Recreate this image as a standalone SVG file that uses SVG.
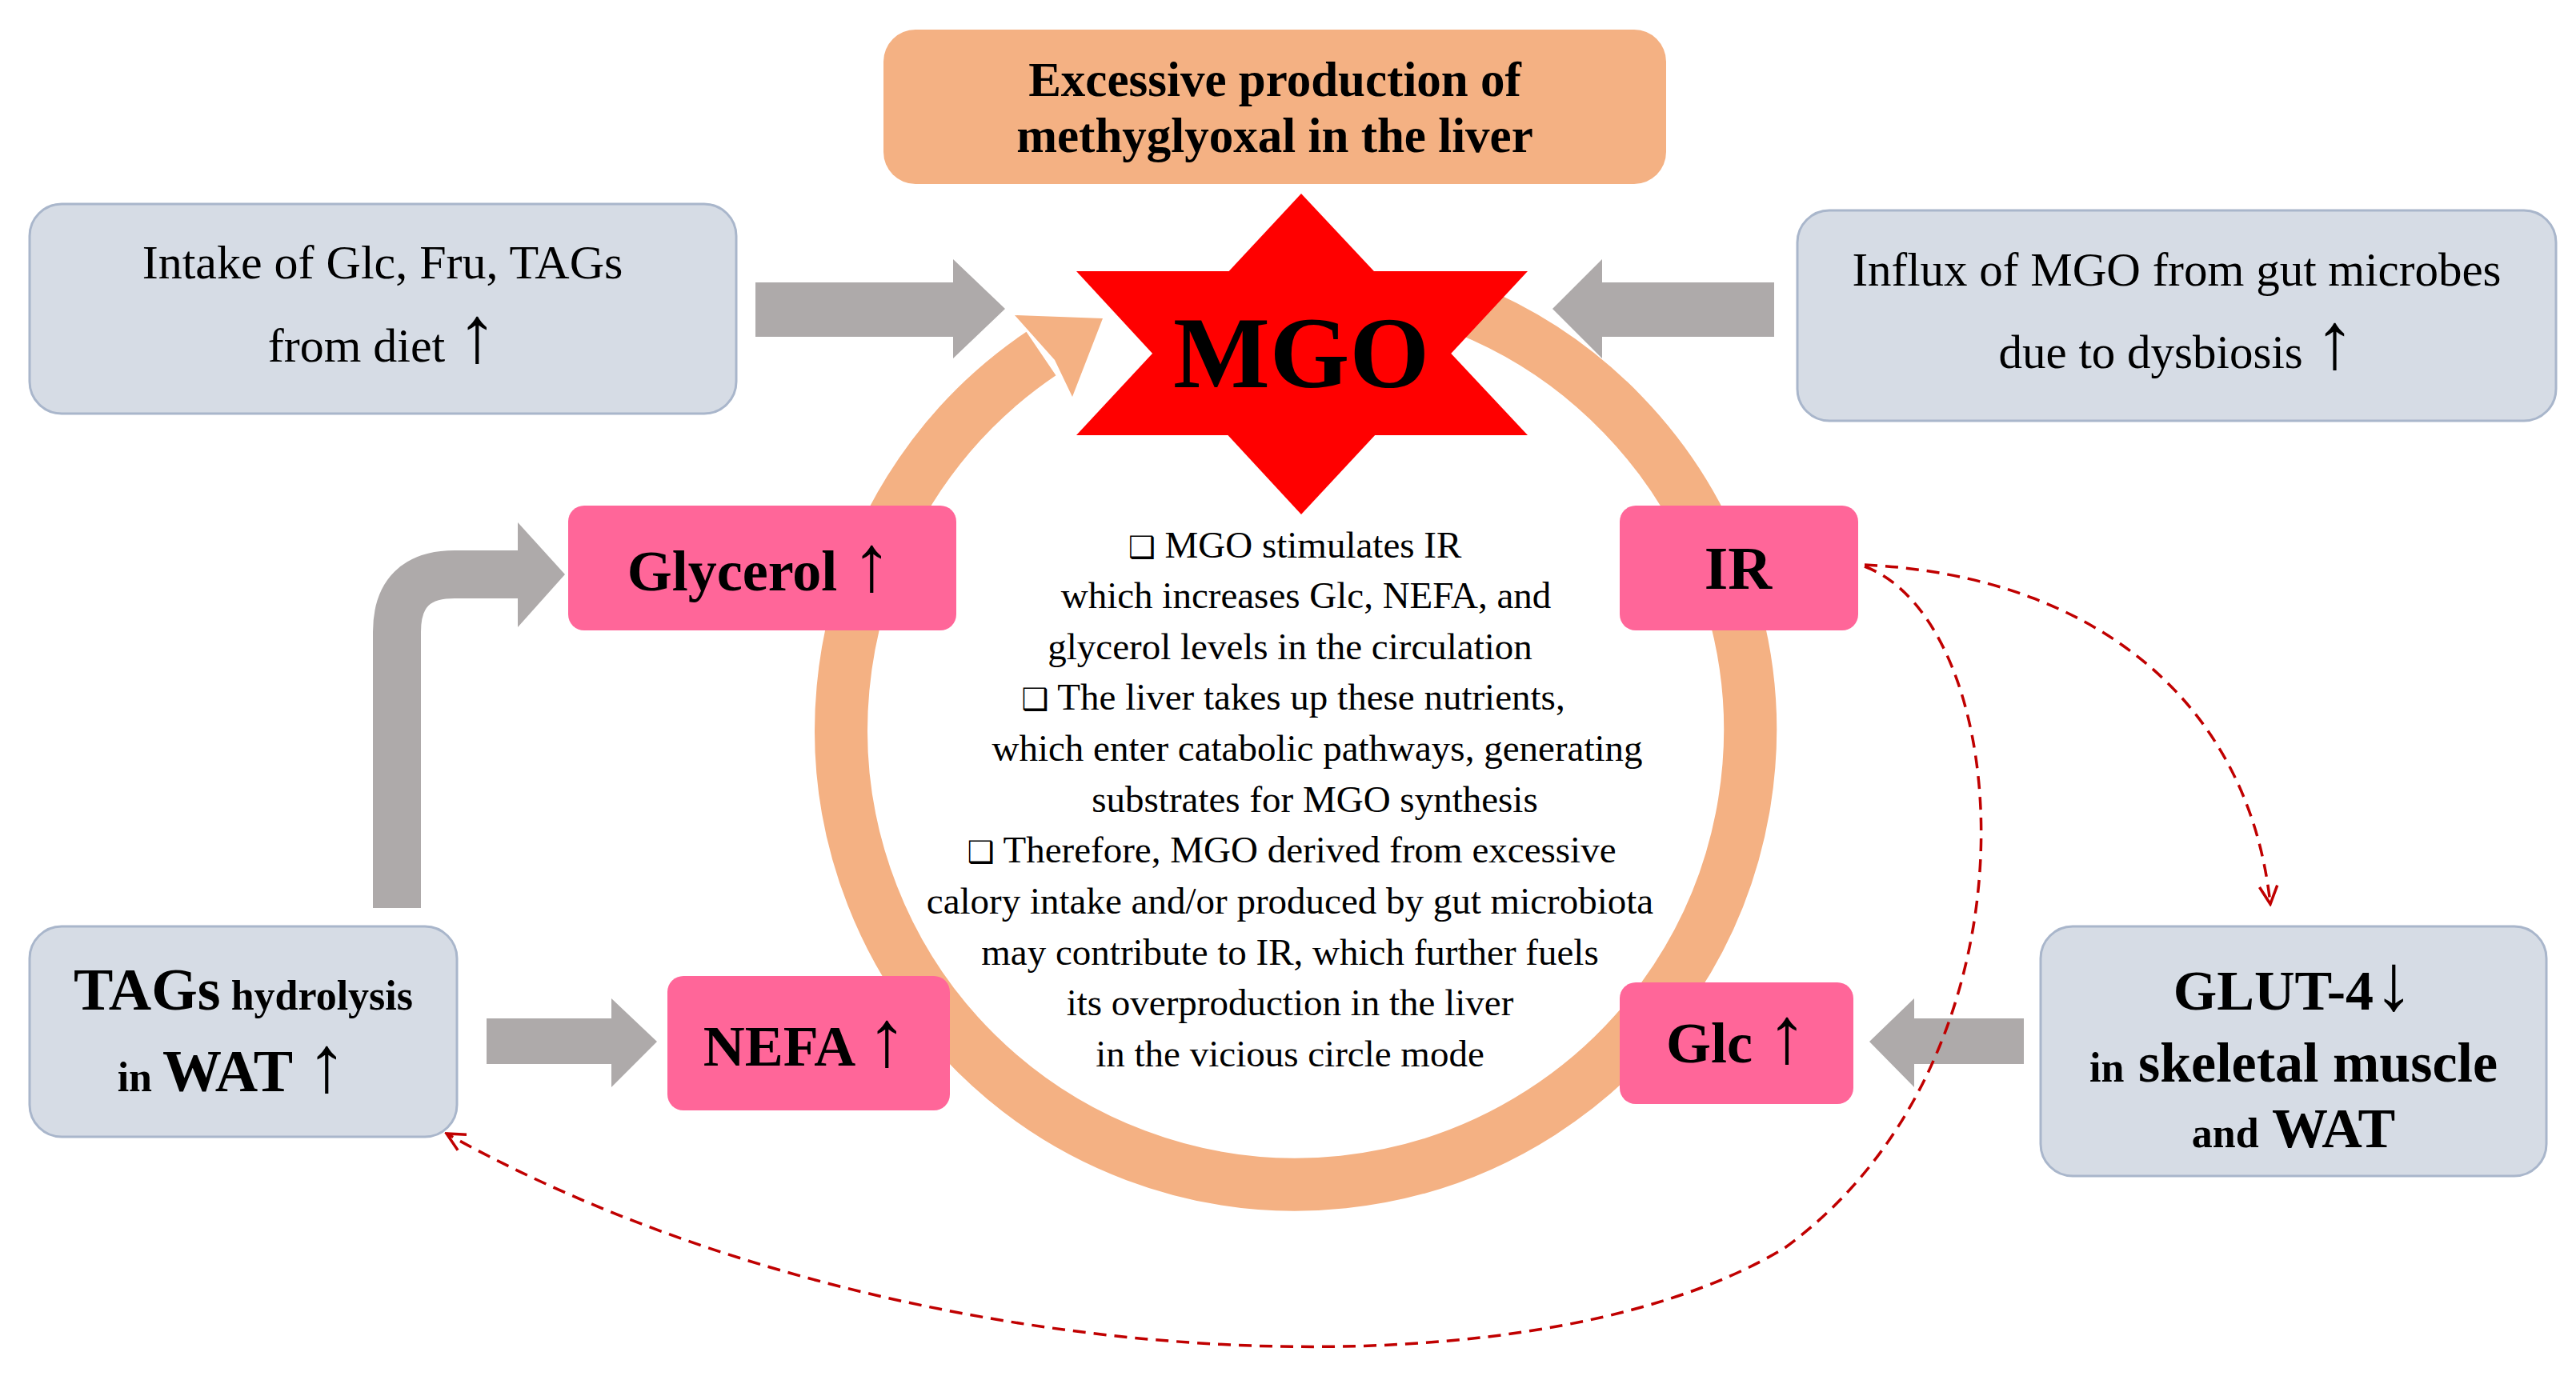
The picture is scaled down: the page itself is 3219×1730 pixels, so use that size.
<svg xmlns="http://www.w3.org/2000/svg" width="3219" height="1730" viewBox="0 0 3219 1730">
<style>
.gray{fill:#D6DCE5;stroke:#A9B6CB;stroke-width:3}
.pink{fill:#FF6699}
.t{font-family:"Liberation Serif",serif;fill:#000;text-anchor:middle}
.b{font-weight:bold}
.arr{fill:#AEAAAA}
.red{fill:none;stroke:#C00000;stroke-width:3.5;stroke-dasharray:16 10}
</style>
<defs>
<marker id="m" viewBox="0 0 20 20" refX="18" refY="10" markerWidth="28" markerHeight="28" markerUnits="userSpaceOnUse" orient="auto">
<polyline points="2,2 18,10 2,18" fill="none" stroke="#C00000" stroke-width="2.5"/>
</marker>
</defs>
<rect width="3219" height="1730" fill="#fff"/>
<g id="cycle">
<path d="M1832 386 A568 568 0 1 1 1301 442" fill="none" stroke="#F4B183" stroke-width="66"/>
<polygon points="1268,394 1378,398 1340,496 1318,450" fill="#F4B183"/>
</g>
<g id="connectors">
<path class="arr" d="M944 353 H1191 V324 L1256 386 L1191 448 V421 H944 Z"/>
<path class="arr" d="M2217 353 H2002 V324 L1940 386 L2002 448 V421 H2217 Z"/>
<path d="M496 1135 V790 Q496 718 568 718 H650" fill="none" stroke="#AEAAAA" stroke-width="60"/>
<polygon class="arr" points="647,653 706,718 647,784"/>
<path class="arr" d="M608 1273 H764 V1248 L821 1302 L764 1359 V1330 H608 Z"/>
<path class="arr" d="M2529 1273 H2392 V1248 L2336 1302 L2392 1359 V1330 H2529 Z"/>
<path class="red" d="M2330 706 C2620 720 2810 880 2837 1130" marker-end="url(#m)"/>
<path class="red" d="M2330 708 C2520 780 2560 1320 2230 1560 C1900 1760 1100 1720 558 1417" marker-end="url(#m)"/>
</g>
<g id="top">
<rect x="1104" y="37" width="978" height="193" rx="40" fill="#F4B183"/>
<text class="t b" x="1593" y="120" font-size="61">Excessive production of</text>
<text class="t b" x="1593" y="190" font-size="61">methyglyoxal in the liver</text>
</g>
<g id="mgo">
<polygon points="1626,242 1909,544 1345,544" fill="#FF0000"/>
<polygon points="1345,339 1909,339 1626,643" fill="#FF0000"/>
<text class="t b" x="1626" y="484" font-size="128">MGO</text>
</g>
<g id="intake">
<rect class="gray" x="37" y="255" width="883" height="262" rx="40"/>
<text class="t" x="478" y="348" font-size="60">Intake of Glc, Fru, TAGs</text>
<text class="t" x="478" y="452" font-size="60">from diet <tspan font-size="100">↑</tspan></text>
</g>
<g id="influx">
<rect class="gray" x="2246" y="263" width="948" height="263" rx="40"/>
<text class="t" x="2720" y="357" font-size="59">Influx of MGO from gut microbes</text>
<text class="t" x="2720" y="460" font-size="59">due to dysbiosis <tspan font-size="100">↑</tspan></text>
</g>
<g id="tags">
<rect class="gray" x="37" y="1158" width="534" height="263" rx="40"/>
<text class="t b" x="304" y="1262" font-size="52"><tspan font-size="74">TAGs</tspan> hydrolysis</text>
<text class="t b" x="290" y="1364" font-size="52">in <tspan font-size="74">WAT </tspan><tspan font-size="100" font-weight="normal">↑</tspan></text>
</g>
<g id="glut">
<rect class="gray" x="2550" y="1158" width="632" height="312" rx="40"/>
<text class="t b" x="2866" y="1262" font-size="70">GLUT-4<tspan font-size="100" font-weight="normal">↓</tspan></text>
<text class="t b" x="2866" y="1352" font-size="70"><tspan font-size="52">in</tspan> skeletal muscle</text>
<text class="t b" x="2866" y="1434" font-size="70"><tspan font-size="52">and</tspan> WAT</text>
</g>
<g id="glycerol">
<rect class="pink" x="710" y="632" width="485" height="156" rx="20"/>
<text class="t b" x="949" y="738" font-size="72">Glycerol <tspan font-size="100" font-weight="normal">↑</tspan></text>
</g>
<g id="ir">
<rect class="pink" x="2024" y="632" width="298" height="156" rx="20"/>
<text class="t b" x="2172" y="736" font-size="76">IR</text>
</g>
<g id="nefa">
<rect class="pink" x="834" y="1220" width="353" height="168" rx="20"/>
<text class="t b" x="1006" y="1332" font-size="72">NEFA <tspan font-size="100" font-weight="normal">↑</tspan></text>
</g>
<g id="glc">
<rect class="pink" x="2024" y="1228" width="292" height="152" rx="20"/>
<text class="t b" x="2170" y="1328" font-size="72">Glc <tspan font-size="100" font-weight="normal">↑</tspan></text>
</g>
<g id="center-text" class="t" font-size="47">
<text x="1618" y="697"><tspan font-family="DejaVu Sans" font-size="38">❑</tspan>  MGO stimulates IR</text>
<text x="1632" y="760">which increases Glc, NEFA,  and</text>
<text x="1612" y="824">glycerol levels in the circulation</text>
<text x="1616" y="887"><tspan font-family="DejaVu Sans" font-size="38">❑</tspan>  The liver takes up these nutrients,</text>
<text x="1646" y="951">which enter catabolic pathways, generating</text>
<text x="1643" y="1015">substrates for MGO synthesis</text>
<text x="1614" y="1078"><tspan font-family="DejaVu Sans" font-size="38">❑</tspan>  Therefore, MGO derived from excessive</text>
<text x="1612" y="1142">calory intake and/or produced by gut microbiota</text>
<text x="1612" y="1206">may contribute to IR, which further fuels</text>
<text x="1612" y="1269">its overproduction in the liver</text>
<text x="1612" y="1333">in the vicious circle mode</text>
</g>
</svg>
